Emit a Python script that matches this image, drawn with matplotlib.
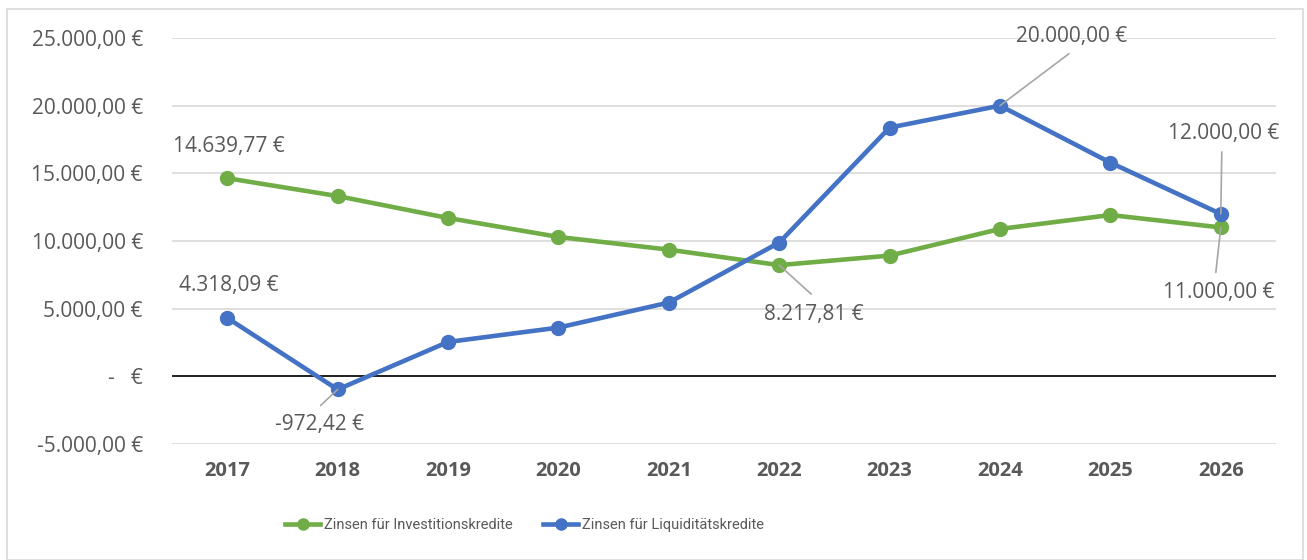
import numpy as np
import matplotlib.pyplot as plt
from matplotlib.patches import Rectangle
from matplotlib.ticker import FuncFormatter, FixedLocator

plt.rcParams['font.family'] = ['Open Sans', 'DejaVu Sans']

years = ['2017', '2018', '2019', '2020', '2021', '2022', '2023', '2024', '2025', '2026']
invest = [14639.77, 13320, 11700, 10300, 9360, 8217.81, 8920, 10890, 11920, 11000.00]
liquid = [4318.09, -972.42, 2540, 3600, 5450, 9880, 18380, 20000.00, 15790, 12000.00]
yticks = [-5000, 0, 5000, 10000, 15000, 20000, 25000]

green = '#70AD47'
blue = '#4472C4'
grey_txt = '#595959'
lead = '#A6A6A6'


def euro(v, pos=None):
    if v == 0:
        return '-   €'
    s = f'{v:,.2f}'.replace(',', 'X').replace('.', ',').replace('X', '.')
    return s + ' €'


fig = plt.figure(figsize=(13.07, 5.6), dpi=100)
fig.patches.append(Rectangle((7 / 1307, 0), 1296 / 1307, 1 - 9 / 560, transform=fig.transFigure,
                             fill=False, edgecolor='#D9D9D9', lw=1.2))
ax = fig.add_axes([172 / 1307, 1 - 444 / 560, (1276 - 172) / 1307, (444 - 38) / 560])

x = np.arange(len(years))
ax.plot(x, invest, color=green, lw=3.3, marker='o', ms=10, label='Zinsen für Investitionskredite', zorder=3)
ax.plot(x, liquid, color=blue, lw=3.3, marker='o', ms=10, label='Zinsen für Liquiditätskredite', zorder=4)

ax.set_xlim(-0.5, len(years) - 0.5)
ax.set_ylim(-5000, 25000)
ax.yaxis.set_major_locator(FixedLocator(yticks))
ax.yaxis.set_major_formatter(FuncFormatter(euro))
ax.grid(axis='y', color='#D9D9D9', lw=1.2)
ax.axhline(0, color='black', lw=1.2, zorder=2)
ax.set_axisbelow(True)
for sp in ax.spines.values():
    sp.set_visible(False)
ax.tick_params(length=0)
ax.tick_params(axis='y', labelsize=15, labelcolor=grey_txt, pad=21)
ax.set_xticks(x)
ax.set_xticklabels(years, fontsize=14.5, fontweight='bold', color=grey_txt)
ax.tick_params(axis='x', pad=12)

# data labels: (series, index, text offset px, leader end offset px or None)
labels = [
    (invest, 0, (2, 32), None),
    (liquid, 0, (2, 32), None),
    (liquid, 1, (-18, -35), (-17, -16)),
    (invest, 5, (35, -49), (32, -29)),
    (liquid, 7, (72, 69), (69, 52)),
    (liquid, 9, (3, 80), (1, 62)),
    (invest, 9, (-2, -65), (-5, -45)),
]
for series, i, toff, loff in labels:
    if loff is not None:
        ax.annotate('', xy=(x[i], series[i]), xytext=loff, textcoords='offset pixels',
                    arrowprops=dict(arrowstyle='-', color=lead, lw=1.2, shrinkA=0, shrinkB=0), zorder=5)
    ax.annotate(euro(series[i]), xy=(x[i], series[i]), xytext=toff, textcoords='offset pixels',
                ha='center', va='center', fontsize=15, color=grey_txt, zorder=6)

h, l = ax.get_legend_handles_labels()
fig.legend(h, l, loc='center left', bbox_to_anchor=(272 / 1307, 1 - 525 / 560), ncol=2, frameon=False,
           prop={'family': ['Roboto', 'DejaVu Sans'], 'size': 10.5}, labelcolor=grey_txt,
           handlelength=2.4, handletextpad=0.25, columnspacing=2.1, markerscale=0.8)

fig.savefig('out.png', dpi=100)
